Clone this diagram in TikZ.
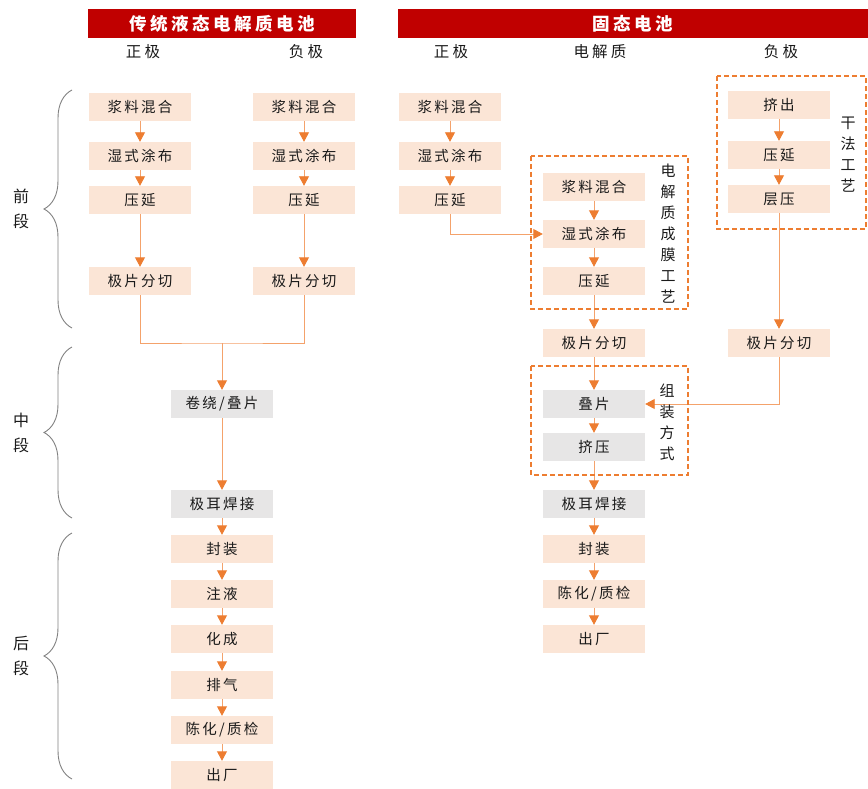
\documentclass[tikz,border=0pt]{standalone}
\usepackage{fontspec}
\setmainfont{Noto Sans CJK SC}
\newfontfamily\cjk{Noto Sans CJK SC}
\newfontfamily\cjkls[LetterSpace=16]{Noto Sans CJK SC}
\newfontfamily\cjkhd[LetterSpace=20]{Noto Sans CJK SC}
\usetikzlibrary{arrows.meta,decorations.pathreplacing}
\definecolor{hdrred}{HTML}{C00000}
\definecolor{peach}{HTML}{FBE5D6}
\definecolor{graybox}{HTML}{E7E6E6}
\definecolor{orng}{HTML}{ED7D31}
\definecolor{lineor}{HTML}{F4A26B}
\definecolor{brgray}{HTML}{808080}
\definecolor{txt}{HTML}{1A1A1A}
\begin{document}
\begin{tikzpicture}[x=1pt,y=-1pt,
  boxbase/.style={minimum width=102pt,minimum height=28pt,inner sep=0pt,text=txt,font=\cjkls\fontsize{14.5}{16}\selectfont},
  pbox/.style={boxbase,fill=peach},
  gbox/.style={boxbase,fill=graybox},
  conn/.style={draw=lineor,line width=0.9pt},
  arr/.style={conn,-{Triangle[length=9.5pt,width=10pt,color=orng]}},
  dbox/.style={draw=orng,line width=1.2pt,dash pattern=on 5pt off 3pt},
  brc/.style={draw=brgray,line width=0.9pt,decorate,decoration={brace,amplitude=28pt}},
  colhd/.style={text=txt,font=\cjkhd\fontsize{15.5}{17}\selectfont},
  hdr/.style={text=white,font=\cjkhd\bfseries\fontsize{17.5}{19}\selectfont},
  vtxt/.style={text=txt,align=center,inner sep=0pt,font=\cjk\fontsize{15}{21}\selectfont},
  sidelbl/.style={text=txt,align=center,inner sep=0pt,font=\cjk\fontsize{16}{25}\selectfont}]
\useasboundingbox (0,0) rectangle (868,789);
% headers
\fill[hdrred] (88,9) rectangle (356,38);
\fill[hdrred] (398,9) rectangle (868,38);
\node[hdr] (h1) at (222,24) {传统液态电解质电池};
\node[hdr] (h2) at (633,24) {固态电池};
\node[colhd] (c1) at (143,52) {正极};
\node[colhd] (c2) at (306,52) {负极};
\node[colhd] (c3) at (451,52) {正极};
\node[colhd] (c4) at (600,52) {电解质};
\node[colhd] (c5) at (781,52) {负极};
% braces
\draw[brc] (72,328) -- (72,90);
\draw[brc] (72,518) -- (72,347);
\draw[brc] (72,779) -- (72,533);
\node[sidelbl] (s1) at (21,209) {前\\段};
\node[sidelbl] (s2) at (21,433) {中\\段};
\node[sidelbl] (s3) at (21,656) {后\\段};
% left: traditional
\node[pbox] (lp1) at (140,107) {浆料混合};
\node[pbox] (lp2) at (140,156) {湿式涂布};
\node[pbox] (lp3) at (140,200) {压延};
\node[pbox] (lp4) at (140,281) {极片分切};
\node[pbox] (ln1) at (304,107) {浆料混合};
\node[pbox] (ln2) at (304,156) {湿式涂布};
\node[pbox] (ln3) at (304,200) {压延};
\node[pbox] (ln4) at (304,281) {极片分切};
\node[gbox] (lw) at (222,404) {卷绕/叠片};
\node[gbox] (lt) at (222,504) {极耳焊接};
\node[pbox] (l1) at (222,549) {封装};
\node[pbox] (l2) at (222,594) {注液};
\node[pbox] (l3) at (222,639) {化成};
\node[pbox] (l4) at (222,685) {排气};
\node[pbox] (l5) at (222,730) {陈化/质检};
\node[pbox] (l6) at (222,775) {出厂};
\draw[arr] (lp1) -- (lp2);
\draw[arr] (lp2) -- (lp3);
\draw[arr] (lp3) -- (lp4);
\draw[arr] (ln1) -- (ln2);
\draw[arr] (ln2) -- (ln3);
\draw[arr] (ln3) -- (ln4);
\coordinate (mj) at (222,343);
\draw[conn] (lp4.south) |- (mj) -| (ln4.south);
\draw[arr] (mj) -- (lw.north);
\draw[arr] (lw) -- (lt);
\draw[arr] (lt) -- (l1);
\draw[arr] (l1) -- (l2);
\draw[arr] (l2) -- (l3);
\draw[arr] (l3) -- (l4);
\draw[arr] (l4) -- (l5);
\draw[arr] (l5) -- (l6);
% right: solid state
\node[pbox] (rp1) at (450,107) {浆料混合};
\node[pbox] (rp2) at (450,156) {湿式涂布};
\node[pbox] (rp3) at (450,200) {压延};
\node[pbox] (re1) at (594,187) {浆料混合};
\node[pbox] (re2) at (594,234) {湿式涂布};
\node[pbox] (re3) at (594,281) {压延};
\node[pbox] (re4) at (594,343) {极片分切};
\node[gbox] (rs) at (594,404) {叠片};
\node[gbox] (rx) at (594,447) {挤压};
\node[gbox] (rt) at (594,504) {极耳焊接};
\node[pbox] (r1) at (594,549) {封装};
\node[pbox] (r2) at (594,594) {陈化/质检};
\node[pbox] (r3) at (594,639) {出厂};
\node[pbox] (rn1) at (779,105) {挤出};
\node[pbox] (rn2) at (779,155) {压延};
\node[pbox] (rn3) at (779,199) {层压};
\node[pbox] (rn4) at (779,343) {极片分切};
\draw[arr] (rp1) -- (rp2);
\draw[arr] (rp2) -- (rp3);
\draw[arr] (rp3.south) |- (re2.west);
\draw[arr] (re1) -- (re2);
\draw[arr] (re2) -- (re3);
\draw[arr] (re3) -- (re4);
\draw[arr] (re4) -- (rs);
\draw[arr] (rs) -- (rx);
\draw[arr] (rx) -- (rt);
\draw[arr] (rt) -- (r1);
\draw[arr] (r1) -- (r2);
\draw[arr] (r2) -- (r3);
\draw[arr] (rn1) -- (rn2);
\draw[arr] (rn2) -- (rn3);
\draw[arr] (rn3) -- (rn4);
\draw[arr] (rn4.south) |- (rs.east);
% dashed groups
\draw[dbox] (531,156) rectangle (688,309);
\draw[dbox] (531,366) rectangle (688,475);
\draw[dbox] (717,76) rectangle (866,229);
\node[vtxt] (v1) at (668,234) {电\\解\\质\\成\\膜\\工\\艺};
\node[vtxt] (v2) at (667,422) {组\\装\\方\\式};
\node[vtxt] (v3) at (848,155) {干\\法\\工\\艺};
\end{tikzpicture}
\end{document}
